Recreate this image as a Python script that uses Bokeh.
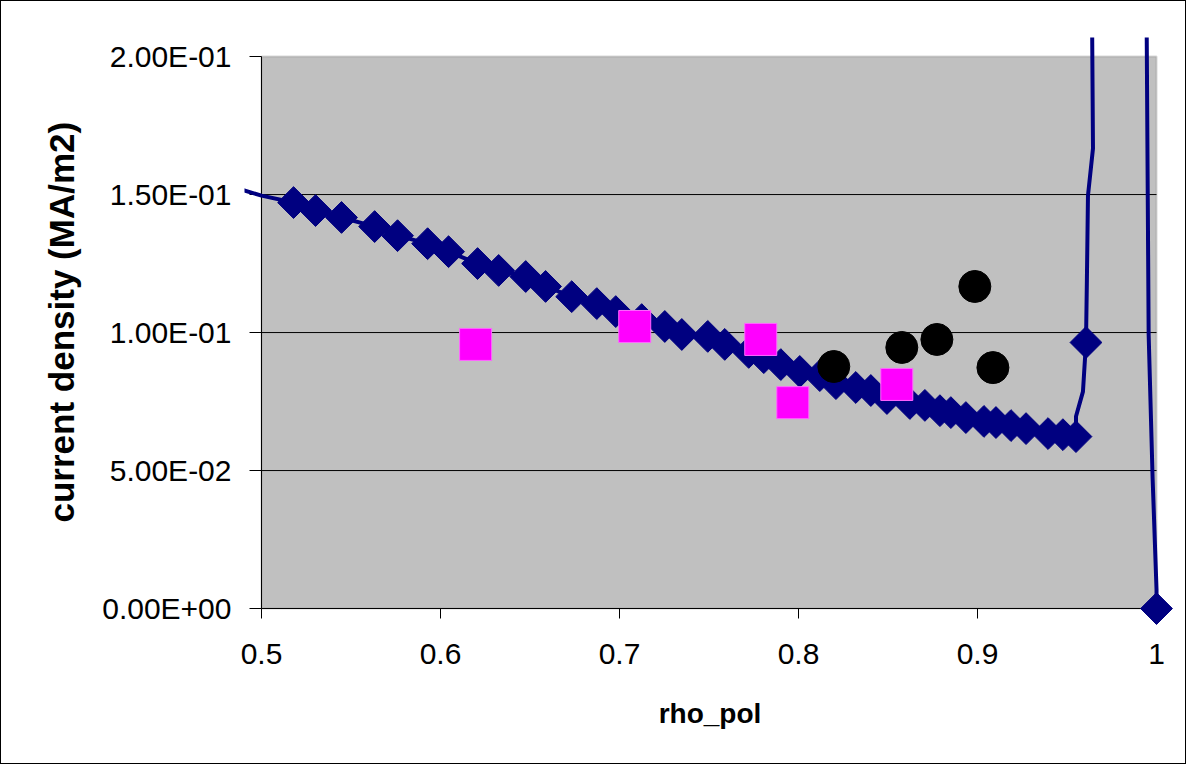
import math
from bokeh.plotting import figure
from bokeh.models import (LinearAxis, FixedTicker, Range1d, BoxAnnotation, Title)
from bokeh.embed import file_html
from bokeh.resources import INLINE

# ---- data ----
# modelled current density (diamonds)
rho_model = [0.5179, 0.5302, 0.5447, 0.5632, 0.5760, 0.5928, 0.6045, 0.6207, 0.6325, 0.6476,
             0.6587, 0.6733, 0.6873, 0.6979, 0.7124, 0.7253, 0.7348, 0.7493, 0.7588, 0.7722,
             0.7806, 0.7901, 0.8007, 0.8119, 0.8209, 0.8320, 0.8404, 0.8494, 0.8622, 0.8706,
             0.8790, 0.8851, 0.8935, 0.9036, 0.9103, 0.9187, 0.9271, 0.9394, 0.9477, 0.9550,
             0.9606, 1.0000]
j_model = [0.1471, 0.1442, 0.1417, 0.1384, 0.1351, 0.1322, 0.1293, 0.1250, 0.1225, 0.1203,
           0.1167, 0.1130, 0.1105, 0.1076, 0.1047, 0.1022, 0.0993, 0.0986, 0.0957, 0.0928,
           0.0909, 0.0884, 0.0859, 0.0844, 0.0815, 0.0801, 0.0790, 0.0761, 0.0743, 0.0736,
           0.0717, 0.0710, 0.0692, 0.0678, 0.0674, 0.0663, 0.0652, 0.0634, 0.0630, 0.0623,
           0.0964, 0.0000]
# line vertices without markers (curve bends and parts outside the plot area)
rho_tail = [0.485, 0.500]
j_tail = [0.1525, 0.1496]
rho_rise1 = [0.9550, 0.9589]
j_rise1 = [0.0696, 0.0786]
rho_rise2 = [0.9611, 0.9617, 0.9645, 0.9636, 0.9941, 0.9956, 0.9978, 1.0000]
j_rise2 = [0.1190, 0.1496, 0.1667, 0.2500, 0.2500, 0.0993, 0.0475, 0.0069]

# measured points
rho_sq = [0.6196, 0.7085, 0.7789, 0.7968, 0.8549]
j_sq = [0.0957, 0.1022, 0.0975, 0.0746, 0.0812]
rho_circ = [0.8197, 0.8577, 0.8773, 0.8985, 0.9086]
j_circ = [0.0877, 0.0946, 0.0975, 0.1167, 0.0873]

x_ticks = [0.5, 0.6, 0.7, 0.8, 0.9, 1.0]
x_tick_labels = ["0.5", "0.6", "0.7", "0.8", "0.9", "1"]
y_ticks = [0.0, 0.05, 0.10, 0.15, 0.20]
y_tick_labels = ["0.00E+00", "5.00E-02", "1.00E-01", "1.50E-01", "2.00E-01"]
x_title = "rho_pol"
y_title = "current density (MA/m2)"

# ---- figure ----
FONT = "Liberation Sans"
NAVY = "#000080"

p = figure(x_range=Range1d(0.4905, 1.0106), y_range=Range1d(-0.0065, 0.2069),
           frame_width=931, frame_height=589,
           min_border_left=243, min_border_right=10, min_border_top=36, min_border_bottom=137,
           x_axis_location=None, y_axis_location=None,
           toolbar_location=None, output_backend="svg",
           background_fill_color="white", border_fill_color="white",
           outline_line_color=None)
p.center = []  # no default grids
p.styles = {"border": "1px solid black"}

# plot area
area = BoxAnnotation(left=x_ticks[0], right=x_ticks[-1], bottom=y_ticks[0], top=y_ticks[-1],
                     fill_color="#C0C0C0", fill_alpha=1.0,
                     line_color="#808080", line_width=2, level="image")
p.add_layout(area)

# horizontal grid lines limited to the plot area
gy = y_ticks[1:-1]
p.segment(x0=[x_ticks[0]] * len(gy), x1=[x_ticks[-1]] * len(gy), y0=gy, y1=gy,
          line_color="black", line_width=1)

# tick labels (at the frame edges)
ylab = LinearAxis(ticker=FixedTicker(ticks=y_ticks),
                  major_label_overrides=dict(zip(y_ticks, y_tick_labels)),
                  major_label_text_font=FONT, major_label_text_font_size="30px",
                  major_label_text_color="black", major_label_standoff=13,
                  major_tick_out=0, major_tick_in=0,
                  axis_line_color=None, major_tick_line_color=None, minor_tick_line_color=None)
p.add_layout(ylab, "left")
xlab = LinearAxis(ticker=FixedTicker(ticks=x_ticks),
                  major_label_overrides=dict(zip(x_ticks, x_tick_labels)),
                  major_label_text_font=FONT, major_label_text_font_size="30px",
                  major_label_text_color="black", major_label_standoff=17,
                  major_tick_out=0, major_tick_in=0,
                  axis_label=x_title,
                  axis_label_text_font=FONT, axis_label_text_font_size="28px",
                  axis_label_text_font_style="bold", axis_label_text_color="black",
                  axis_label_standoff=31,
                  axis_line_color=None, major_tick_line_color=None, minor_tick_line_color=None)
p.add_layout(xlab, "below")

# y axis title
p.add_layout(Title(text=y_title, align="left", offset=104, standoff=38,
                   text_font=FONT, text_font_size="35px", text_font_style="bold",
                   text_color="black"), "left")

# axis lines and tick marks at x=0.5 and y=0
yaxis = LinearAxis(fixed_location=x_ticks[0], bounds=(y_ticks[0], y_ticks[-1]),
                   ticker=FixedTicker(ticks=y_ticks),
                   major_label_text_color=None,
                   axis_line_color="black", axis_line_width=1,
                   major_tick_line_color="black", major_tick_out=12, major_tick_in=0,
                   minor_tick_line_color=None, level="underlay")
p.add_layout(yaxis, "left")
xaxis = LinearAxis(fixed_location=y_ticks[0], bounds=(x_ticks[0], x_ticks[-1]),
                   ticker=FixedTicker(ticks=x_ticks),
                   major_label_text_color=None,
                   axis_line_color="black", axis_line_width=1,
                   major_tick_line_color="black", major_tick_out=10, major_tick_in=0,
                   minor_tick_line_color=None, level="underlay")
p.add_layout(xaxis, "below")

# model line
path_x = rho_tail + rho_model[:40] + rho_rise1 + [rho_model[40]] + rho_rise2 + [rho_model[41]]
path_y = j_tail + j_model[:40] + j_rise1 + [j_model[40]] + j_rise2 + [j_model[41]]
p.line(path_x, path_y, line_color=NAVY, line_width=4)
p.scatter(rho_model, j_model, marker="square", angle=math.pi / 4, size=22.5,
          fill_color=NAVY, line_color=NAVY)

# measurements
p.scatter(rho_sq, j_sq, marker="square", size=32, fill_color="#FF00FF", line_color="#FF66FF", line_width=1)
p.scatter(rho_circ, j_circ, marker="circle", size=32, fill_color="black", line_color="black")

open("out.html", "w").write(file_html(p, INLINE))
